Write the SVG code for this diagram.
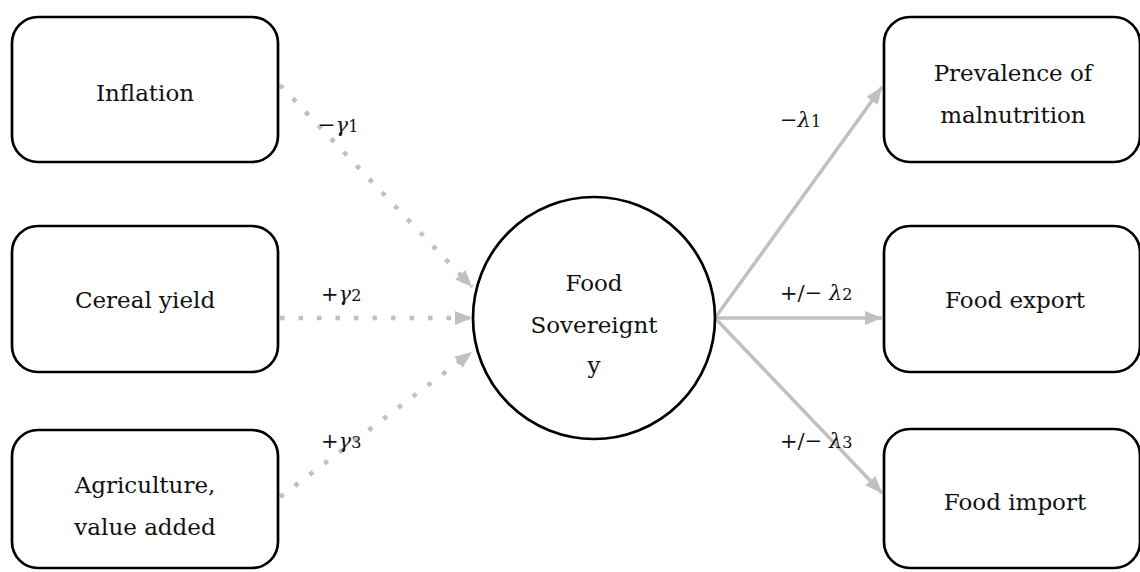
<svg xmlns="http://www.w3.org/2000/svg" width="1140" height="572" viewBox="0 0 1140 572">
<defs>
<style>
.box{fill:#fff;stroke:#000;stroke-width:2.7}
.t{font-family:"DejaVu Serif","Liberation Serif",serif;font-size:23px;fill:#111;text-anchor:middle}
.lbl{font-family:"DejaVu Serif","Liberation Serif",serif;font-size:21px;fill:#111}
.it{font-style:italic}
.sub{font-size:16px}
.dot{stroke:#c0c0c0;stroke-width:4.5;fill:none;stroke-dasharray:4.5 14;marker-end:url(#ah)}
.sol{stroke:#c0c0c0;stroke-width:3.5;fill:none;marker-end:url(#ah)}
</style>
<marker id="ah" markerUnits="userSpaceOnUse" markerWidth="18" markerHeight="16" viewBox="0 0 18 16" refX="17" refY="8" orient="auto">
<path d="M0,1 L17,8 L0,15 Z" fill="#c0c0c0"/>
</marker>
</defs>
<rect width="1140" height="572" fill="#fff"/>
<g id="connectors">
<line class="dot" x1="280" y1="85" x2="472" y2="287"/>
<line class="dot" x1="280" y1="318" x2="472" y2="318"/>
<line class="dot" x1="280" y1="497" x2="472" y2="352"/>
<line class="sol" x1="715" y1="318" x2="882" y2="87"/>
<line class="sol" x1="715" y1="318" x2="882" y2="318"/>
<line class="sol" x1="715" y1="318" x2="882" y2="493"/>
<text class="lbl" x="318" y="132">−<tspan class="it">γ</tspan><tspan class="sub">1</tspan></text>
<text class="lbl" x="321" y="301">+<tspan class="it">γ</tspan><tspan class="sub">2</tspan></text>
<text class="lbl" x="321" y="448">+<tspan class="it">γ</tspan><tspan class="sub">3</tspan></text>
<text class="lbl" x="780" y="127">−<tspan class="it">λ</tspan><tspan class="sub">1</tspan></text>
<text class="lbl" x="780" y="300">+/− <tspan class="it">λ</tspan><tspan class="sub">2</tspan></text>
<text class="lbl" x="780" y="448">+/− <tspan class="it">λ</tspan><tspan class="sub">3</tspan></text>
</g>
<g id="inflation">
<rect class="box" x="12" y="17" width="266" height="145" rx="26"/>
<text class="t" x="145" y="101">Inflation</text>
</g>
<g id="cereal">
<rect class="box" x="12" y="226" width="266" height="146" rx="26"/>
<text class="t" x="145" y="308">Cereal yield</text>
</g>
<g id="agriculture">
<rect class="box" x="12" y="430" width="266" height="138" rx="26"/>
<text class="t" x="145" y="493">Agriculture,</text>
<text class="t" x="145" y="535">value added</text>
</g>
<g id="food-sovereignty">
<circle cx="594" cy="318" r="121" fill="#fff" stroke="#000" stroke-width="2.7"/>
<text class="t" x="594" y="291">Food</text>
<text class="t" x="594" y="333">Sovereignt</text>
<text class="t" x="594" y="373">y</text>
</g>
<g id="malnutrition">
<rect class="box" x="884" y="17" width="256" height="145" rx="26"/>
<text class="t" x="1013" y="81">Prevalence of</text>
<text class="t" x="1013" y="123">malnutrition</text>
</g>
<g id="export">
<rect class="box" x="884" y="226" width="256" height="146" rx="26"/>
<text class="t" x="1015" y="308">Food export</text>
</g>
<g id="import">
<rect class="box" x="884" y="429" width="256" height="139" rx="26"/>
<text class="t" x="1015" y="510">Food import</text>
</g>
</svg>
